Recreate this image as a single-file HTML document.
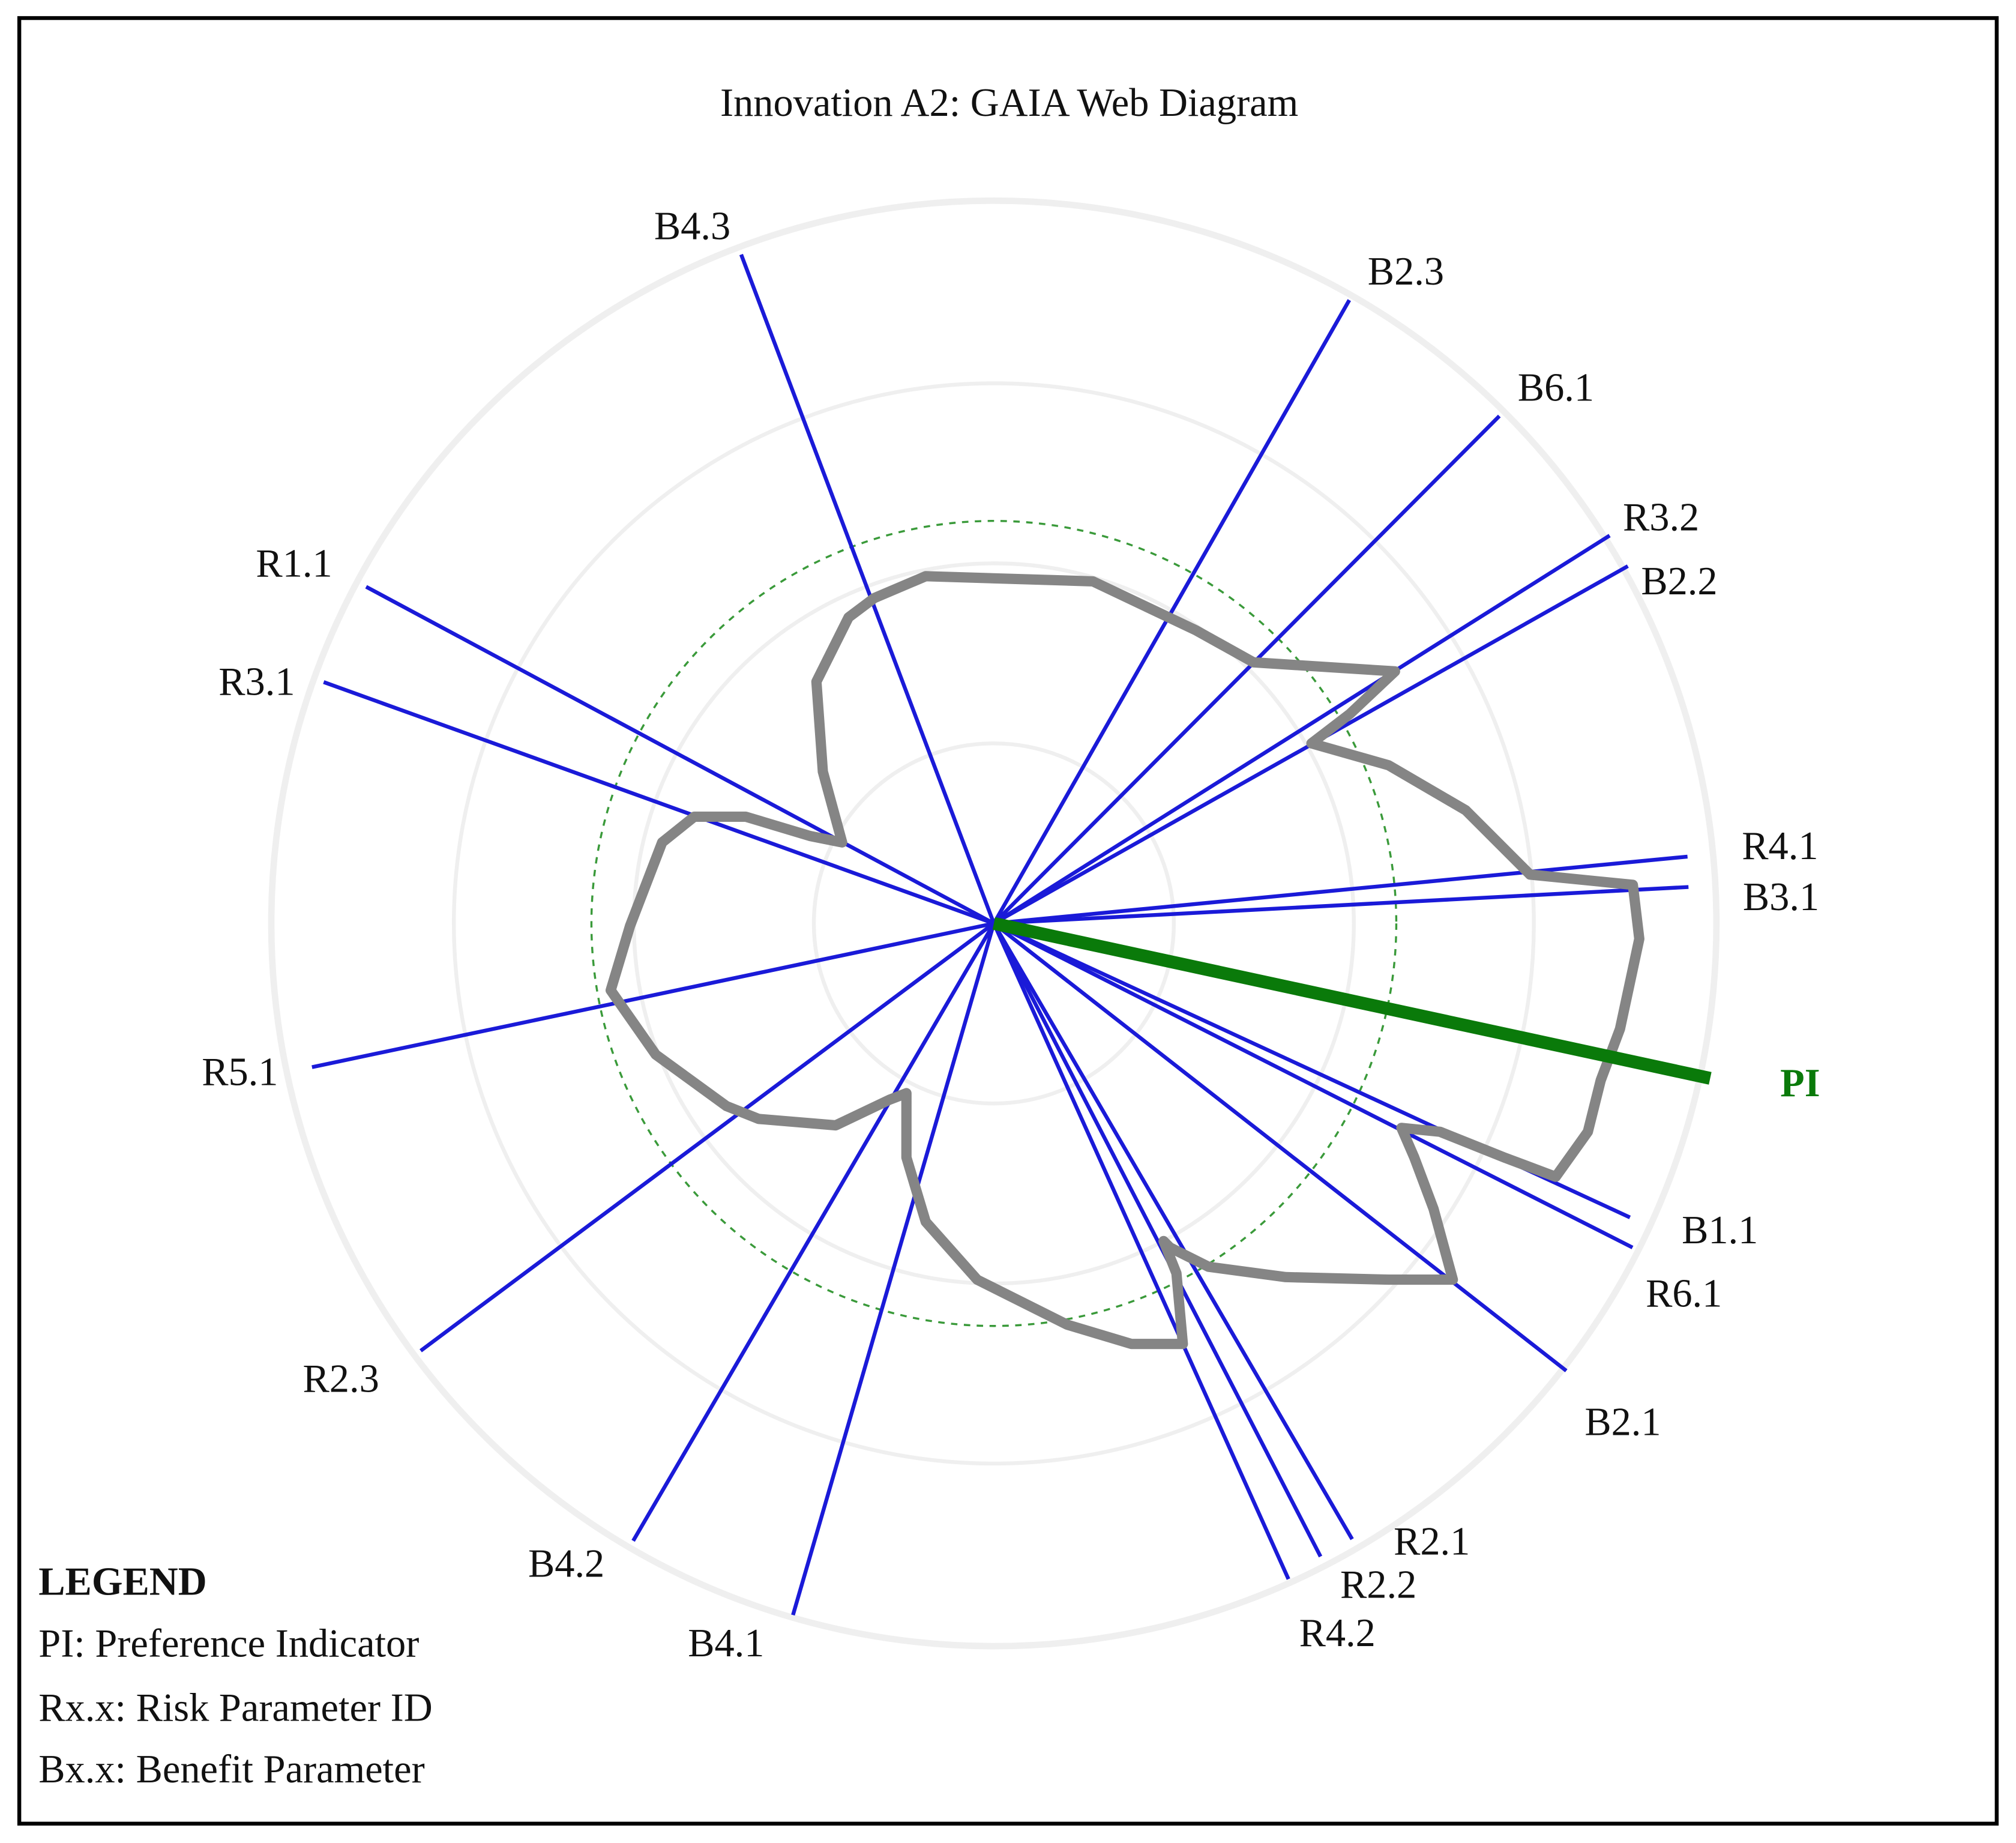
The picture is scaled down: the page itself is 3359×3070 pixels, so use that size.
<!DOCTYPE html>
<html><head><meta charset="utf-8"><style>
html,body{margin:0;padding:0;background:#fff;}
svg{display:block;font-family:"Liberation Serif",serif;}
</style></head><body>
<svg id="chart" width="3359" height="3070" viewBox="0 0 1568 1433" xmlns="http://www.w3.org/2000/svg">
<rect x="15" y="14" width="1538" height="1404" fill="#fff" stroke="#000" stroke-width="3"/>
<text x="785" y="90" font-size="31" text-anchor="middle" fill="#111">Innovation A2: GAIA Web Diagram</text>
<g id="rings"></g>
<g id="axes"></g>
<g id="shape"></g>
<g id="labels"></g>
<g font-size="31" fill="#111">
<text x="30" y="1240" font-weight="bold">LEGEND</text>
<text x="30" y="1288">PI: Preference Indicator</text>
<text x="30" y="1338">Rx.x: Risk Parameter ID</text>
<text x="30" y="1386">Bx.x: Benefit Parameter</text>
</g>
</svg>
<script>
const axisNames=["B4.3","B2.3","B6.1","R3.2","B2.2","R4.1","B3.1","PI","B1.1","R6.1","B2.1","R2.1","R2.2","R4.2","B4.1","B4.2","R2.3","R5.1","R3.1","R1.1"];
const axisAngles=[110.7,60.3,45.1,32.2,29.4,5.5,3.0,-12.2,-24.8,-26.9,-38.0,-59.8,-62.7,-65.8,-106.2,-120.3,-143.3,-168.1,160.2,151.8];
const axisLengths=[556,558,557,566,566,542,541,570,545,557,565,554,554,559,560,556,556,542,554,554];
const labelOffsets=[[-38,-12],[44,-12],[44,-12],[40,-4],[40,22],[72,2],[72,18],[70,14],[70,20],[40,46],[44,50],[62,12],[45,32],[38,52],[-52,32],[-52,28],[-62,32],[-56,14],[-52,10],[-56,-8]];
const ringRadii=[140,280,420,562];
const shapeX=[680,720,850,930,975,1085,1050,1020,1080,1140,1190,1270,1275,1260,1245,1235,1210,1170,1120,1090,1100,1115,1130,1080,1000,940,910,905,915,920,880,830,760,720,705,705,692,650,590,565,510,475,490,515,540,580,630,655,640,635,660];
const shapeY=[465,448,452,490,515,522,555,578,595,630,680,688,730,800,840,880,915,900,880,877,900,940,995,995,993,985,970,965,990,1045,1045,1030,995,950,900,850,855,875,870,860,820,770,720,655,635,635,650,655,600,530,480];
const cx=773, cy=718, NS="http://www.w3.org/2000/svg";
function px(a,r){return cx+r*Math.cos(a*Math.PI/180);}
function py(a,r){return cy-r*Math.sin(a*Math.PI/180);}
function mk(t,attrs,parent){const e=document.createElementNS(NS,t);for(const k in attrs)e.setAttribute(k,attrs[k]);document.getElementById(parent).appendChild(e);return e;}
ringRadii.forEach((r,i)=>{
 const c=mk("circle",{cx:cx,cy:cy,r:r,fill:"none",stroke:"#efefef","stroke-width":i==3?5:3},"rings");
 
 
});
const dc=mk("circle",{cx:cx,cy:cy,r:313,fill:"none",stroke:"#3a9a3a","stroke-width":1.6,"stroke-dasharray":"5,5"},"rings");


axisNames.forEach((n,i)=>{
 const a=axisAngles[i],r=axisLengths[i],pi=n==="PI";
 const l=mk("line",{x1:cx,y1:cy,x2:px(a,r),y2:py(a,r),stroke:pi?"#0a7a0a":"#1a1ad8","stroke-width":pi?10:3},pi?"labels":"axes");
 
 
 const t=mk("text",{x:px(a,r)+labelOffsets[i][0],y:py(a,r)+labelOffsets[i][1],"font-size":31,"text-anchor":"middle",fill:pi?"#0a7a0a":"#111","font-weight":pi?"bold":"normal"},"labels");
 t.textContent=n;
 
 
});
const pts=shapeX.map((x,i)=>x+","+shapeY[i]).join(" ");
const p=mk("polygon",{points:pts,fill:"none",stroke:"#858585","stroke-width":8,"stroke-linejoin":"round"},"shape");


</script>
</body></html>
